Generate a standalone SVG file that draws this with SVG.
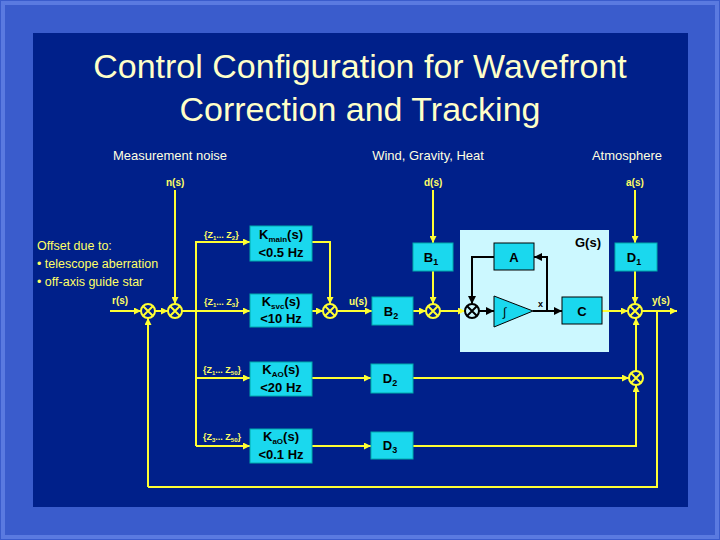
<svg xmlns="http://www.w3.org/2000/svg" width="720" height="540" viewBox="0 0 720 540">
<defs>
<marker id="ay" viewBox="0 0 10 10" refX="10" refY="5" markerWidth="7" markerHeight="7" orient="auto" markerUnits="userSpaceOnUse"><path d="M0,0L10,5L0,10z" fill="#ffff33"/></marker>
<marker id="ak" viewBox="0 0 10 10" refX="10" refY="5" markerWidth="8" markerHeight="8" orient="auto" markerUnits="userSpaceOnUse"><path d="M0,0L10,5L0,10z" fill="#000"/></marker>
<style>
.t{font-family:"Liberation Sans",Arial,sans-serif}
.w{fill:#ffffe0}
.y{fill:#ffff66;font-weight:bold;font-size:10px}
.bx{fill:#1ad8ee;stroke:#0aa;stroke-width:1}
.bt{font-family:"Liberation Sans",Arial,sans-serif;font-weight:bold;fill:#000;font-size:13px;text-anchor:middle}
.l{stroke:#ffff33;stroke-width:2;fill:none}
.la{stroke:#ffff33;stroke-width:2;fill:none;marker-end:url(#ay)}
.k{stroke:#000;stroke-width:2;fill:none}
.s{fill:#002090;stroke:#ffff33;stroke-width:2}
.sk{fill:#ccf8ff;stroke:#000;stroke-width:2}
</style>
</defs>
<rect width="720" height="540" fill="#3a5ccc"/>
<rect x="3" y="3" width="714" height="534" fill="none" stroke="#5a7ae0" stroke-width="4"/>
<rect x="33" y="33" width="655" height="474" fill="#00208a"/>
<g class="t" fill="#ffffc8" font-size="34" text-anchor="middle"><text x="360" y="78">Control Configuration for Wavefront</text><text x="360" y="121">Correction and Tracking</text></g>
<g class="t w" font-size="13" text-anchor="middle"><text x="170" y="160">Measurement noise</text><text x="428" y="160">Wind, Gravity, Heat</text><text x="627" y="160">Atmosphere</text></g>
<g class="t" fill="#ffff66" font-size="12.5"><text x="37" y="250">Offset due to:</text><text x="37" y="268">• telescope aberration</text><text x="37" y="286">• off-axis guide star</text></g>
<g id="G"><rect x="460" y="230" width="149" height="122" fill="#ccf8ff"/><text x="588" y="247" class="bt" font-size="15">G(s)</text></g>
<g id="connectors">
<path class="la" d="M110,311H141"/>
<path class="la" d="M155,311H168"/>
<path class="la" d="M175,190V304"/>
<path class="la" d="M182,311H250"/>
<path class="l" d="M196,311V446"/>
<path class="la" d="M196,311V242H250"/>
<path class="la" d="M196,378H250"/>
<path class="la" d="M196,446H250"/>
<path class="la" d="M312,311H323"/>
<path class="la" d="M312,242H330V304"/>
<path class="la" d="M337,311H372"/>
<path class="la" d="M413,311H426"/>
<path class="la" d="M433,190V243"/>
<path class="la" d="M433,271V304"/>
<path class="la" d="M440,311H465"/>
<path class="k" d="M479,311H494" marker-end="url(#ak)"/>
<path class="k" d="M533,311H562" marker-end="url(#ak)"/>
<path class="k" d="M547,311V257H534" marker-end="url(#ak)"/>
<path class="k" d="M494,257H472V304" marker-end="url(#ak)"/>
<path class="la" d="M602,311H628"/>
<path class="la" d="M635,190V243"/>
<path class="la" d="M635,271V304"/>
<path class="la" d="M642,311H677"/>
<path class="l" d="M657,311V487H148"/>
<path class="la" d="M148,487V318"/>
<path class="la" d="M312,378H371"/>
<path class="la" d="M413,378H629"/>
<path class="la" d="M312,446H371"/>
<path class="la" d="M413,446H636V385"/>
<path class="la" d="M636,371V318"/>
</g>
<g class="t y"><text x="112" y="304">r(s)</text><text x="166" y="186">n(s)</text><text x="424" y="186">d(s)</text><text x="626" y="186">a(s)</text><text x="349" y="305">u(s)</text><text x="652" y="304">y(s)</text>
<text x="204" y="238" font-size="9">{Z<tspan font-size="6" dy="2">1</tspan><tspan dy="-2">... Z</tspan><tspan font-size="6" dy="2">2</tspan><tspan dy="-2">}</tspan></text>
<text x="204" y="305" font-size="9">{Z<tspan font-size="6" dy="2">1</tspan><tspan dy="-2">... Z</tspan><tspan font-size="6" dy="2">3</tspan><tspan dy="-2">}</tspan></text>
<text x="203" y="373" font-size="9">{Z<tspan font-size="6" dy="2">1</tspan><tspan dy="-2">... Z</tspan><tspan font-size="6" dy="2">50</tspan><tspan dy="-2">}</tspan></text>
<text x="203" y="440" font-size="9">{Z<tspan font-size="6" dy="2">3</tspan><tspan dy="-2">... Z</tspan><tspan font-size="6" dy="2">50</tspan><tspan dy="-2">}</tspan></text>
<text x="538" y="307" fill="#000" font-size="9">x</text></g>
<g id="sums">
<g id="s1"><circle cx="148" cy="311" r="7" class="s"/><path class="l" d="M143,306l10,10M153,306l-10,10"/></g>
<g id="s2"><circle cx="175" cy="311" r="7" class="s"/><path class="l" d="M170,306l10,10M180,306l-10,10"/></g>
<g id="s3"><circle cx="330" cy="311" r="7" class="s"/><path class="l" d="M325,306l10,10M335,306l-10,10"/></g>
<g id="s4"><circle cx="433" cy="311" r="7" class="s"/><path class="l" d="M428,306l10,10M438,306l-10,10"/></g>
<g id="s5"><circle cx="472" cy="311" r="7" class="sk"/><path class="k" d="M467,306l10,10M477,306l-10,10"/></g>
<g id="s6"><circle cx="635" cy="311" r="7" class="s"/><path class="l" d="M630,306l10,10M640,306l-10,10"/></g>
<g id="s7"><circle cx="636" cy="378" r="7" class="s"/><path class="l" d="M631,373l10,10M641,373l-10,10"/></g>
</g>
<g id="Kmain"><rect x="250" y="226" width="62" height="35" class="bx"/><text x="281" y="239" class="bt">K<tspan font-size="8" dy="3">main</tspan><tspan dy="-3">(s)</tspan></text><text x="281" y="257" class="bt">&lt;0.5 Hz</text></g>
<g id="Ksvc"><rect x="250" y="294" width="62" height="33" class="bx"/><text x="281" y="306" class="bt">K<tspan font-size="8" dy="3">svc</tspan><tspan dy="-3">(s)</tspan></text><text x="281" y="323" class="bt">&lt;10 Hz</text></g>
<g id="KAO"><rect x="250" y="362" width="62" height="34" class="bx"/><text x="281" y="374" class="bt">K<tspan font-size="8" dy="3">AO</tspan><tspan dy="-3">(s)</tspan></text><text x="281" y="392" class="bt">&lt;20 Hz</text></g>
<g id="KaO"><rect x="250" y="429" width="62" height="34" class="bx"/><text x="281" y="441" class="bt">K<tspan font-size="8" dy="3">aO</tspan><tspan dy="-3">(s)</tspan></text><text x="281" y="459" class="bt">&lt;0.1 Hz</text></g>
<g id="B1"><rect x="413" y="243" width="40" height="28" class="bx"/><text x="431" y="262" class="bt">B<tspan font-size="9" dy="3">1</tspan></text></g>
<g id="B2"><rect x="372" y="297" width="41" height="28" class="bx"/><text x="391" y="316" class="bt">B<tspan font-size="9" dy="3">2</tspan></text></g>
<g id="A"><rect x="494" y="243" width="40" height="27" class="bx" style="stroke:#000"/><text x="514" y="262" class="bt">A</text></g>
<g id="integ"><path d="M494,296L533,311L494,327z" class="bx" style="stroke:#000"/><text x="503" y="316" class="t" font-size="12">∫</text></g>
<g id="C"><rect x="562" y="297" width="40" height="27" class="bx" style="stroke:#000"/><text x="582" y="316" class="bt">C</text></g>
<g id="D1"><rect x="615" y="243" width="42" height="28" class="bx"/><text x="634" y="262" class="bt">D<tspan font-size="9" dy="3">1</tspan></text></g>
<g id="D2"><rect x="371" y="364" width="42" height="29" class="bx"/><text x="390" y="383" class="bt">D<tspan font-size="9" dy="3">2</tspan></text></g>
<g id="D3"><rect x="371" y="432" width="42" height="27" class="bx"/><text x="390" y="450" class="bt">D<tspan font-size="9" dy="3">3</tspan></text></g>
</svg>
